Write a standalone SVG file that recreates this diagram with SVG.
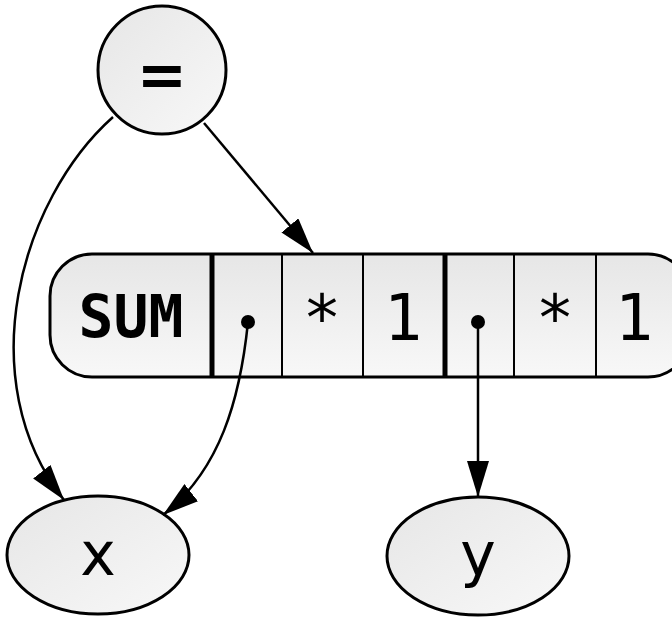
<svg xmlns="http://www.w3.org/2000/svg" width="672" height="617" viewBox="0 0 672 617">
<defs>
<linearGradient id="gv" x1="0" y1="0" x2="0" y2="1"><stop offset="0" stop-color="#e6e6e6"/><stop offset="1" stop-color="#f8f8f8"/></linearGradient>
<linearGradient id="gd" x1="0" y1="0" x2="1" y2="1"><stop offset="0" stop-color="#e6e6e6"/><stop offset="1" stop-color="#f8f8f8"/></linearGradient>
<marker id="ah" viewBox="0 0 36 22" refX="36" refY="11" markerWidth="36" markerHeight="22" orient="auto" markerUnits="userSpaceOnUse"><path d="M0,0 L36,11 L0,22 Z" fill="#000"/></marker>
</defs>
<style>
.node{stroke:#000;stroke-width:3}
.edge{fill:none;stroke:#000;stroke-width:2.5;marker-end:url(#ah)}
.mono{font-family:"DejaVu Sans Mono","Liberation Mono",monospace;font-size:58px;text-anchor:middle;fill:#000}
.big{font-size:64px}
.sans{font-family:"DejaVu Sans","Liberation Sans",sans-serif;font-size:60px;text-anchor:middle;fill:#000}
.thin{stroke:#000;stroke-width:2}
.thick{stroke:#000;stroke-width:5}
</style>
<g id="eq">
<circle class="node" cx="162" cy="70" r="64" fill="url(#gd)"/>
<text class="sans" x="162" y="96" font-size="68" font-weight="bold">=</text>
</g>
<g id="sum">
<rect class="node" x="50" y="254" width="640" height="123" rx="42" ry="42" fill="url(#gv)"/>
<line class="thick" x1="212" y1="255" x2="212" y2="376"/>
<line class="thin" x1="282" y1="255" x2="282" y2="376"/>
<line class="thin" x1="363" y1="255" x2="363" y2="376"/>
<line class="thick" x1="445" y1="255" x2="445" y2="376"/>
<line class="thin" x1="514" y1="255" x2="514" y2="376"/>
<line class="thin" x1="596" y1="255" x2="596" y2="376"/>
<text class="mono" x="131" y="337" font-weight="bold">SUM</text>
<circle cx="248" cy="322" r="7" fill="#000"/>
<text class="mono big" x="322" y="340">*</text>
<text class="mono big" x="403" y="340">1</text>
<circle cx="478" cy="322" r="7" fill="#000"/>
<text class="mono big" x="555" y="340">*</text>
<text class="mono big" x="634" y="340">1</text>
</g>
<g id="x">
<ellipse class="node" cx="98" cy="555" rx="91" ry="59" fill="url(#gd)"/>
<text class="sans" x="98" y="575">x</text>
</g>
<g id="y">
<ellipse class="node" cx="478" cy="556" rx="91" ry="59" fill="url(#gd)"/>
<text class="sans" x="478" y="575">y</text>
</g>
<g id="edges">
<path class="edge" d="M113,117 C20,200 -30,380 64,500"/>
<path class="edge" d="M204,123 L313,253"/>
<path class="edge" d="M248,322 C240,400 220,470 163,515"/>
<path class="edge" d="M478,322 L478,497"/>
</g>
</svg>
